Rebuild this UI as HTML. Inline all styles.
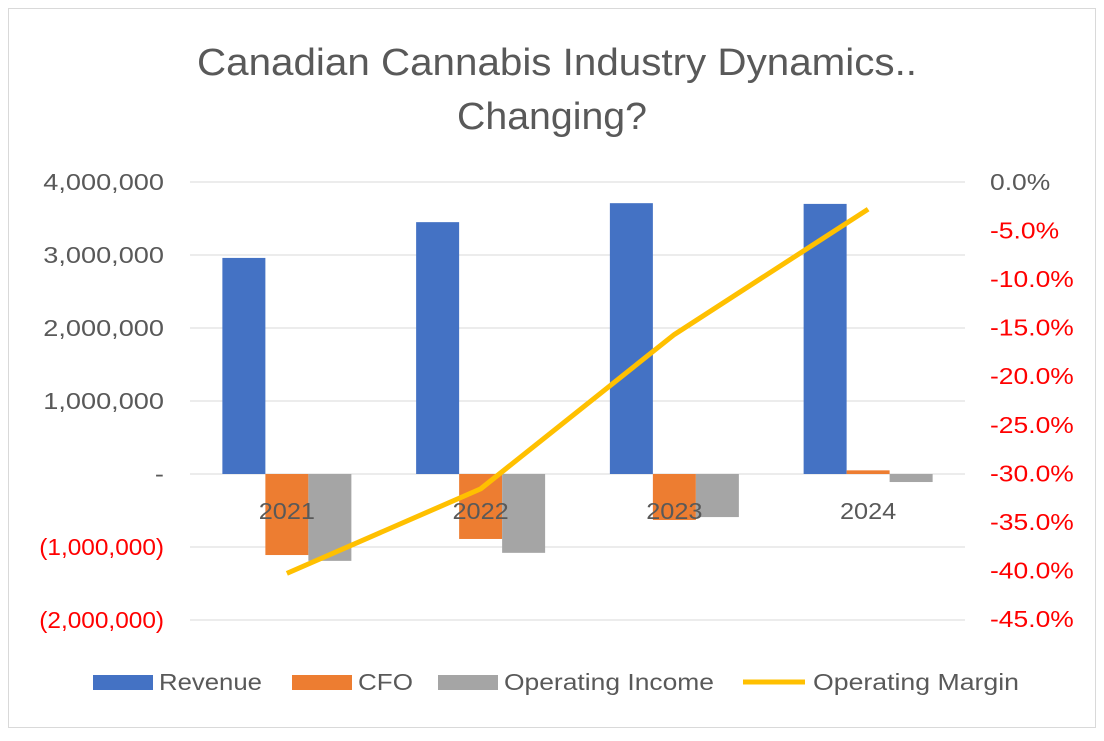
<!DOCTYPE html>
<html><head><meta charset="utf-8"><style>
body{margin:0;background:#fff;font-family:"Liberation Sans",sans-serif;}
svg text{font-family:"Liberation Sans",sans-serif;}
</style></head><body>
<svg width="1104" height="736">
<rect x="8.5" y="8.5" width="1087" height="719" fill="#fff" stroke="#d9d9d9"/>
<text x="557" y="75" text-anchor="middle" font-size="38" fill="#595959" textLength="720" lengthAdjust="spacingAndGlyphs">Canadian Cannabis Industry Dynamics..</text>
<text x="552" y="129" text-anchor="middle" font-size="38" fill="#595959" textLength="190" lengthAdjust="spacingAndGlyphs">Changing?</text>
<g id="grid"></g><g id="bars"></g><g id="line"></g><g id="axes"></g>
<g id="legend"></g>
</svg>
<script>
const categories=["2021","2022","2023","2024"];
const revenue=[2960000,3450000,3710000,3700000];
const cfo=[-1110000,-890000,-630000,50000];
const opIncome=[-1190000,-1080000,-590000,-110000];
const opMargin=[-40.3,-31.6,-15.7,-2.8];
const leftTicks=[4000000,3000000,2000000,1000000,0,-1000000,-2000000];
const leftLabels=["4,000,000","3,000,000","2,000,000","1,000,000","-","(1,000,000)","(2,000,000)"];
const rightTicks=[0,-5,-10,-15,-20,-25,-30,-35,-40,-45];
const NS="http://www.w3.org/2000/svg";
const X0=190,X1=965,catW=(X1-X0)/4,bw=43;
const yL=v=>474-v*73/1000000;
const yR=p=>182-p*(437/45);
const xc=i=>X0+catW*(i+0.5);
function mk(t,a,p){const e=document.createElementNS(NS,t);for(const k in a)e.setAttribute(k,a[k]);document.getElementById(p).appendChild(e);return e;}
function stretch(t,f){const w=t.getComputedTextLength();t.setAttribute("textLength",w*f);t.setAttribute("lengthAdjust","spacingAndGlyphs");}
leftTicks.forEach((v,i)=>{
 const l=mk("line",{x1:X0,x2:X1,y1:yL(v),y2:yL(v),stroke:"#d9d9d9","stroke-width":1},"grid");
 
 
 const t=mk("text",{x:164,y:yL(v)+8,"text-anchor":"end","font-size":23,fill:v<0?"#ff0000":"#595959"},"axes");
 t.textContent=leftLabels[i];
 
 
 stretch(t,v<0?1.06:1.18);
});
rightTicks.forEach(p=>{
 const t=mk("text",{x:990,y:yR(p)+8,"font-size":23,fill:p<0?"#ff0000":"#595959"},"axes");
 t.textContent=p.toFixed(1)+"%";
 
 
 stretch(t,1.15);
});
const series=[[revenue,"#4472c4","revenue-bar"],[cfo,"#ed7d31","cfo-bar"],[opIncome,"#a5a5a5","operating-income-bar"]];
categories.forEach((c,i)=>{
 series.forEach((s,j)=>{
  const v=s[0][i],x=xc(i)-1.5*bw+j*bw;
  const r=mk("rect",{x:x,y:Math.min(yL(v),yL(0)),width:bw,height:Math.abs(yL(v)-yL(0)),fill:s[1]},"bars");
  
  
 });
 const t=mk("text",{x:xc(i),y:519,"text-anchor":"middle","font-size":23,fill:"#595959"},"axes");
 t.textContent=c;
 
 
 stretch(t,1.1);
});
const pl=mk("polyline",{points:opMargin.map((p,i)=>xc(i)+","+yR(p)).join(" "),fill:"none",stroke:"#ffc000","stroke-width":5,"stroke-linejoin":"round"},"line");


const leg=[["Revenue","#4472c4",93,"rect",103],["CFO","#ed7d31",292,"rect",55],["Operating Income","#a5a5a5",438,"rect",210],["Operating Margin","#ffc000",743,"line",206]];
leg.forEach(l=>{
 if(l[3]=="rect"){const r=mk("rect",{x:l[2],y:675,width:60,height:15,fill:l[1]},"legend");}
 else{const r=mk("line",{x1:l[2],x2:l[2]+62,y1:682,y2:682,stroke:l[1],"stroke-width":5},"legend");}
 const t=mk("text",{x:l[2]+(l[3]=="rect"?66:70),y:690,"font-size":23,fill:"#595959",textLength:l[4],lengthAdjust:"spacingAndGlyphs"},"legend");
 t.textContent=l[0];
 
 
});
</script>
</body></html>
